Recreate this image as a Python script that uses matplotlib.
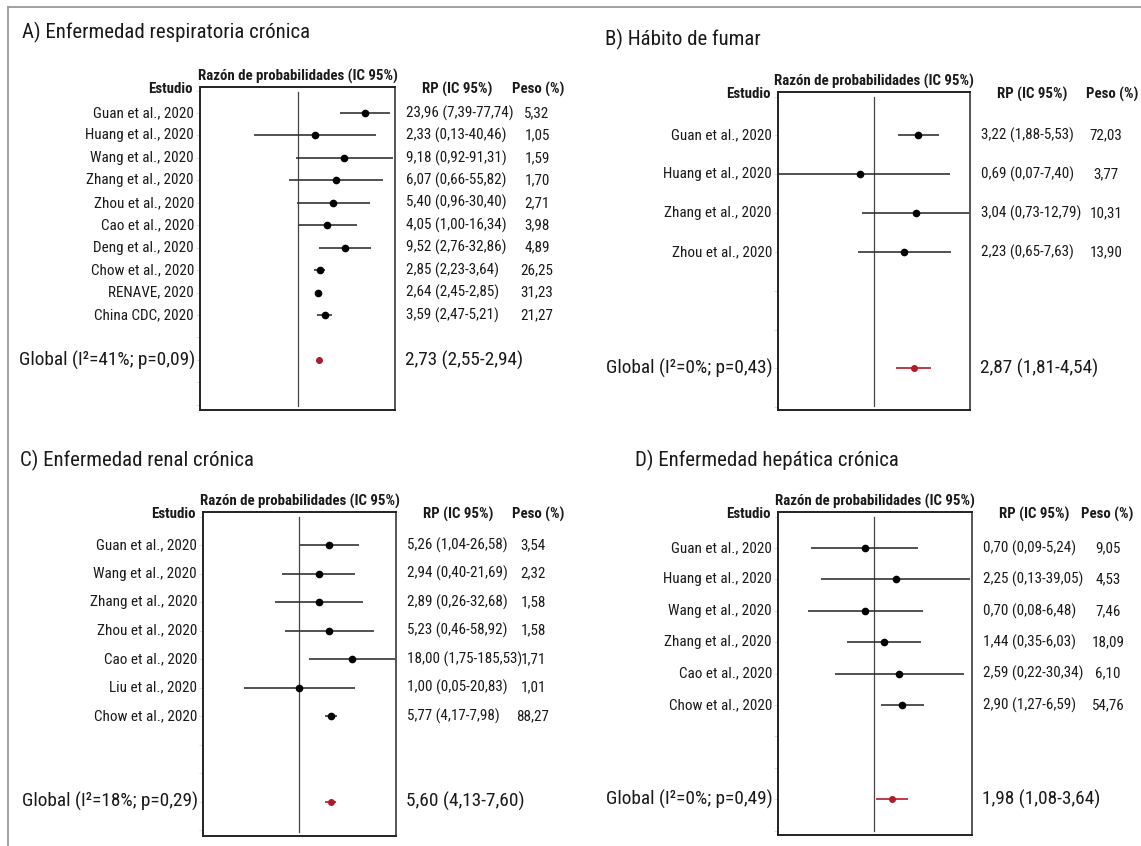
import matplotlib
matplotlib.use('Agg')
import matplotlib.pyplot as plt
import matplotlib.transforms as mtransforms
from matplotlib import font_manager
from matplotlib.lines import Line2D
from matplotlib.ticker import NullLocator

# ---- data ----
A_studies = ["Guan et al., 2020", "Huang et al., 2020", "Wang et al., 2020", "Zhang et al., 2020",
             "Zhou et al., 2020", "Cao et al., 2020", "Deng et al., 2020", "Chow et al., 2020",
             "RENAVE, 2020", "China CDC, 2020"]
A_rp = [23.96, 2.33, 9.18, 6.07, 5.40, 4.05, 9.52, 2.85, 2.64, 3.59]
A_lo = [7.39, 0.13, 0.92, 0.66, 0.96, 1.00, 2.76, 2.23, 2.45, 2.47]
A_hi = [77.74, 40.46, 91.31, 55.82, 30.40, 16.34, 32.86, 3.64, 2.85, 5.21]
A_peso = [5.32, 1.05, 1.59, 1.70, 2.71, 3.98, 4.89, 26.25, 31.23, 21.27]
A_global = [2.73, 2.55, 2.94]
A_i2, A_p = 41, 0.09

B_studies = ["Guan et al., 2020", "Huang et al., 2020", "Zhang et al., 2020", "Zhou et al., 2020"]
B_rp = [3.22, 0.69, 3.04, 2.23]
B_lo = [1.88, 0.07, 0.73, 0.65]
B_hi = [5.53, 7.40, 12.79, 7.63]
B_peso = [72.03, 3.77, 10.31, 13.90]
B_global = [2.87, 1.81, 4.54]
B_i2, B_p = 0, 0.43

C_studies = ["Guan et al., 2020", "Wang et al., 2020", "Zhang et al., 2020", "Zhou et al., 2020",
             "Cao et al., 2020", "Liu et al., 2020", "Chow et al., 2020"]
C_rp = [5.26, 2.94, 2.89, 5.23, 18.00, 1.00, 5.77]
C_lo = [1.04, 0.40, 0.26, 0.46, 1.75, 0.05, 4.17]
C_hi = [26.58, 21.69, 32.68, 58.92, 185.53, 20.83, 7.98]
C_peso = [3.54, 2.32, 1.58, 1.58, 1.71, 1.01, 88.27]
C_global = [5.60, 4.13, 7.60]
C_i2, C_p = 18, 0.29

D_studies = ["Guan et al., 2020", "Huang et al., 2020", "Wang et al., 2020", "Zhang et al., 2020",
             "Cao et al., 2020", "Chow et al., 2020"]
D_rp = [0.70, 2.25, 0.70, 1.44, 2.59, 2.90]
D_lo = [0.09, 0.13, 0.08, 0.35, 0.22, 1.27]
D_hi = [5.24, 39.05, 6.48, 6.03, 30.34, 6.59]
D_peso = [9.05, 4.53, 7.46, 18.09, 6.10, 54.76]
D_global = [1.98, 1.08, 3.64]
D_i2, D_p = 0, 0.49

titles = ["A) Enfermedad respiratoria crónica", "B) Hábito de fumar",
          "C) Enfermedad renal crónica", "D) Enfermedad hepática crónica"]

# ---- fonts: prefer a narrow sans ----
available = {f.name for f in font_manager.fontManager.ttflist}
scale = 0.82
family = 'Liberation Sans'
for cand in ['Liberation Sans Narrow', 'Arial Narrow', 'Roboto Condensed']:
    if cand in available:
        family, scale = cand, 1.0
        break
plt.rcParams['font.family'] = [family, 'DejaVu Sans']

FS_TITLE = 15.0 * scale
FS_ROW = 10.9 * scale
FS_HDR = 10.7 * scale
FS_GLOBAL = 13.9 * scale

W, H = 1141, 846
RED = '#b3192b'
TXT = '#1a1a1a'


def fx(px):
    return px / W


def fy(py):
    return 1 - py / H


def num(v):
    return f"{v:.2f}".replace('.', ',')


def ci_text(rp, lo, hi):
    return f"{num(rp)} ({num(lo)}-{num(hi)})"


# layout of each panel: box in pixels, axis limits, text columns
layout = [
    dict(box=(200, 87, 395, 410), xlim=(0.01, 100), ylim=(13.23, -1.16), grow=11,
         title_xy=(22, 32), peso_x=537, peso_hdr=538),
    dict(box=(778, 92, 970, 410), xlim=(0.079, 12.7), ylim=(7.07, -1.12), grow=6,
         title_xy=(605, 39), peso_x=1106, peso_hdr=1112),
    dict(box=(203, 512, 396, 836), xlim=(0.0052, 200), ylim=(10.2, -1.16), grow=9,
         title_xy=(20, 460), peso_x=533, peso_hdr=538),
    dict(box=(778, 512, 972, 835), xlim=(0.025, 42), ylim=(9.14, -1.15), grow=8,
         title_xy=(635, 460), peso_x=1108, peso_hdr=1107),
]

panels = [
    (A_studies, A_rp, A_lo, A_hi, A_peso, A_global, A_i2, A_p),
    (B_studies, B_rp, B_lo, B_hi, B_peso, B_global, B_i2, B_p),
    (C_studies, C_rp, C_lo, C_hi, C_peso, C_global, C_i2, C_p),
    (D_studies, D_rp, D_lo, D_hi, D_peso, D_global, D_i2, D_p),
]

fig = plt.figure(figsize=(W / 100, H / 100), dpi=100)
fig.patch.set_facecolor('white')

# grey frame on the top and left edges
fig.add_artist(Line2D([fx(8), fx(8)], [fy(7), 0], color='#9a9a9a', lw=1.3))
fig.add_artist(Line2D([fx(8), 1], [fy(7), fy(7)], color='#9a9a9a', lw=1.3))

for title, lay, (studies, rp, lo, hi, peso, glob, i2, p) in zip(titles, layout, panels):
    x0, y0, x1, y1 = lay['box']
    ax = fig.add_axes([fx(x0), fy(y1), fx(x1) - fx(x0), (y1 - y0) / H])
    ax.set_xscale('log')
    ax.set_xlim(*lay['xlim'])
    ax.set_ylim(*lay['ylim'])
    ax.xaxis.set_major_locator(NullLocator())
    ax.xaxis.set_minor_locator(NullLocator())
    ax.set_yticks(range(-1, int(lay['ylim'][0]) + 1))
    ax.set_yticklabels([])
    ax.tick_params(axis='y', length=3, width=0.8, color='#dddddd')
    for side, sp in ax.spines.items():
        sp.set_linewidth(1.4)
        sp.set_color('#222222' if side in ('left', 'bottom', 'top') else '#555555')

    rows = list(range(len(studies)))
    ax.axvline(1, ymin=0.012, ymax=0.984, color='#444444', lw=0.9, zorder=1)
    ax.hlines(rows, lo, hi, color='#333333', lw=1.2, zorder=2)
    ax.plot(rp, rows, 'o', color='black', ms=4.5, zorder=3)

    g = lay['grow']
    ax.hlines([g], [glob[1]], [glob[2]], color=RED, lw=1.2, zorder=2)
    ax.plot([glob[0]], [g], 'o', color=RED, ms=4, zorder=3)

    trans = mtransforms.blended_transform_factory(fig.transFigure, ax.transData)
    for i in rows:
        ax.text(fx(x0 - 6), i, studies[i], transform=trans, ha='right', va='center',
                fontsize=FS_ROW, color=TXT)
        ax.text(fx(x1 + 11), i, ci_text(rp[i], lo[i], hi[i]), transform=trans,
                ha='left', va='center', fontsize=FS_ROW, color=TXT)
        ax.text(fx(lay['peso_x']), i, num(peso[i]), transform=trans,
                ha='center', va='center', fontsize=FS_ROW, color=TXT)

    ax.text(fx(x0 - 5), g, f"Global (I²={i2}%; p={num(p)})", transform=trans,
            ha='right', va='center', fontsize=FS_GLOBAL, color=TXT)
    ax.text(fx(x1 + 10), g, ci_text(*glob), transform=trans,
            ha='left', va='center', fontsize=FS_GLOBAL, color=TXT)

    # column headers
    fig.text(fx(x0 - 7), fy(y0 + 2), "Estudio", ha='right', va='center',
             fontsize=FS_HDR, fontweight='bold', color=TXT)
    fig.text(fx((x0 + x1) / 2), fy(y0 - 11), "Razón de probabilidades (IC 95%)",
             ha='center', va='center', fontsize=FS_HDR, fontweight='bold', color=TXT)
    fig.text(fx(x1 + 62), fy(y0 + 2), "RP (IC 95%)", ha='center', va='center',
             fontsize=FS_HDR, fontweight='bold', color=TXT)
    fig.text(fx(lay['peso_hdr']), fy(y0 + 2), "Peso (%)", ha='center', va='center',
             fontsize=FS_HDR, fontweight='bold', color=TXT)

    tx, ty = lay['title_xy']
    fig.text(fx(tx), fy(ty), title, ha='left', va='center', fontsize=FS_TITLE, color=TXT)

fig.savefig('out.png', dpi=100, facecolor='white')
